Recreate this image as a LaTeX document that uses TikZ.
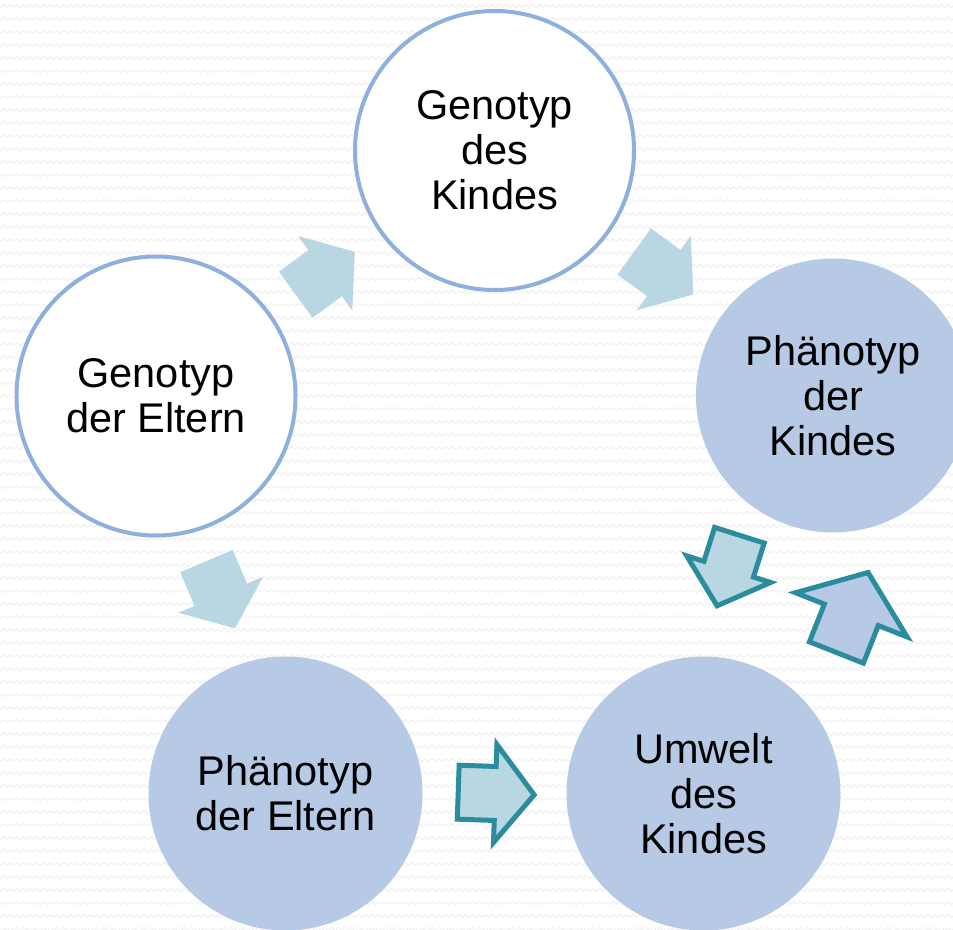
\documentclass[tikz,border=0pt]{standalone}
\usepackage{fontspec}
\setmainfont{Liberation Sans}
\usetikzlibrary{calc,decorations.pathmorphing}
\definecolor{ringblue}{HTML}{8EB0DC}
\definecolor{discblue}{HTML}{B6CAE5}
\definecolor{arrowcyan}{HTML}{B9D7E2}
\definecolor{tealline}{HTML}{2B8C9E}
\definecolor{bgzig}{HTML}{F0F0F0}
% #1 style, #2 position, #3 rotation, #4 back, #5 head base, #6 tip, #7 shaft half width, #8 head half width
\newcommand{\bArrow}[8]{%
  \begin{scope}[shift={#2},rotate=#3]
    \path[#1] (-#4,-#7) -- (#5,-#7) -- (#5,-#8) -- (#6,0) -- (#5,#8) -- (#5,#7) -- (-#4,#7) -- cycle;
  \end{scope}}
\tikzset{
  txt/.style={align=center, inner sep=0pt, text=black, font=\fontsize{41.5}{45}\selectfont},
  ringnode/.style={circle, txt, draw=ringblue, line width=4pt, fill=white, minimum size=279pt},
  discnode/.style={circle, txt, fill=discblue, minimum size=274pt},
  lightarrow/.style={fill=arrowcyan},
  tealarrow/.style={fill=arrowcyan, draw=tealline, line width=5pt},
  tealarrowb/.style={fill=discblue, draw=tealline, line width=5pt},
  zigline/.style={draw=bgzig, line width=1pt, decorate, decoration={zigzag, segment length=6.7pt, amplitude=1.5pt}}
}
\begin{document}
\begin{tikzpicture}[x=1pt,y=-1pt]
\useasboundingbox (0,0) rectangle (953,929);
\clip (0,0) rectangle (953,929);
\fill[white] (0,0) rectangle (953,929);
\foreach \yy in {6,19,...,929} { \path[zigline] (-5,\yy) -- (960,\yy); }

\node[ringnode] (A) at (494.5,150.5) {Genotyp\\des\\Kindes};
\node[discnode] (B) at (833,395.5) {Phänotyp\\der\\Kindes};
\node[discnode] (C) at (703.5,793.5) {Umwelt\\des\\Kindes};
\node[discnode] (D) at (285.5,793.5) {Phänotyp\\der Eltern};
\node[ringnode] (E) at (156,396) {Genotyp\\der Eltern};

\bArrow{lightarrow}{($(E)!0.5!(A)$)}{36}{36.5}{0}{36.5}{28.5}{46}
\bArrow{lightarrow}{($(A)!0.5!(B)$)}{-36}{36.5}{0}{36.5}{28.5}{46}
\bArrow{lightarrow}{($(E)!0.5!(D)$)}{-67}{36.5}{0}{36.5}{28.5}{46}
\bArrow{tealarrow}{($(D)!0.5!(C)+(1.7,0)$)}{-2}{38}{-1}{38}{27}{49}
\bArrow{tealarrow}{($(B)!0.5!(C)+(-40,-24)$)}{252.4}{37}{-1.4}{37}{26}{44}
\bArrow{tealarrowb}{($(B)!0.5!(C)+(84,18)$)}{68.4}{43}{-2.5}{43}{29}{60}
\end{tikzpicture}
\end{document}
